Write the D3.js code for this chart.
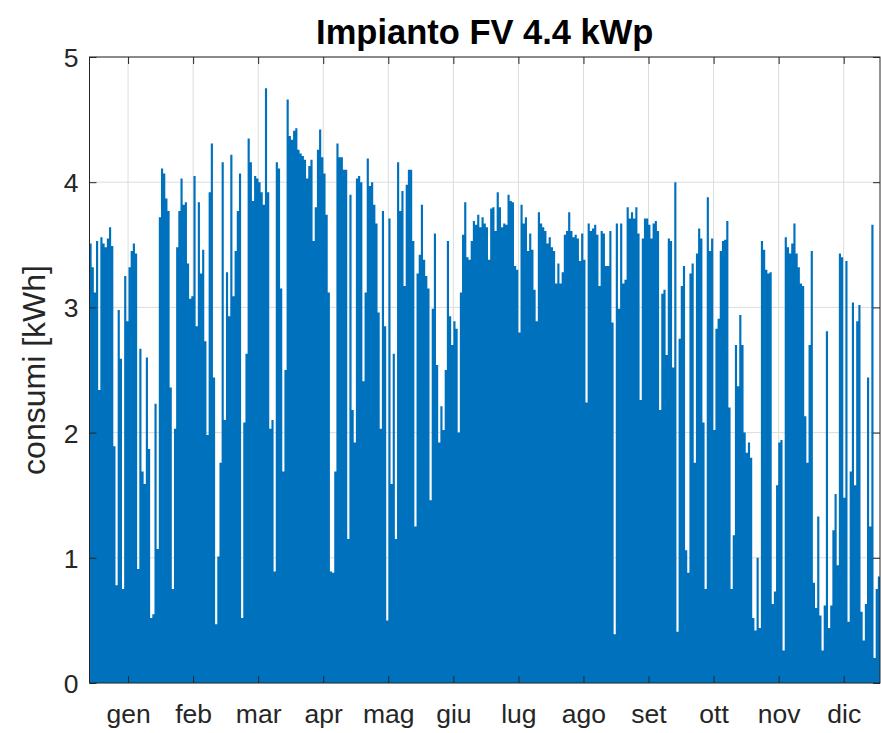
<!DOCTYPE html>
<html><head><meta charset="utf-8">
<script src="https://cdn.jsdelivr.net/npm/d3@7"></script>
<style>body{margin:0;background:#fff}svg{display:block}</style>
</head><body><svg id="c" width="881" height="733"></svg>
<script>
// Daily peak production (kWh)
const peakDays001to124 = [3.51,3.32,3.12,3.53,2.34,3.56,3.51,3.48,3.55,3.64,
3.49,1.89,0.78,2.98,2.59,0.75,3.25,2.89,3.32,3.45,
3.51,3.43,0.91,2.67,1.69,1.59,2.60,1.87,0.52,0.55,
2.23,1.07,3.72,4.11,4.07,3.87,3.77,2.36,0.75,2.03,
3.48,3.77,4.03,3.82,3.84,3.35,3.07,3.09,4.05,2.85,
3.84,3.27,3.46,2.73,1.98,3.92,4.31,2.44,0.47,1.01,
1.76,4.16,2.10,3.28,2.93,4.22,3.09,3.45,3.77,4.07,
0.52,2.08,2.63,4.35,4.16,3.85,4.05,4.03,4.00,3.92,
3.82,4.75,3.92,2.03,2.10,0.89,4.16,4.11,3.15,1.69,
2.50,4.66,4.37,4.34,4.41,4.43,4.26,4.23,4.21,4.18,
4.03,4.13,4.18,3.53,3.80,4.26,4.42,4.20,4.07,3.74,
3.12,0.89,0.88,1.69,4.31,4.20,4.20,4.10,4.10,1.15,
3.90,2.18,1.92,4.03];
const peakDays125to245 = [4.05,4.00,2.41,3.12,4.19,3.97,4.00,3.82,3.67,2.96,
2.03,3.77,2.85,0.50,3.71,1.59,2.63,1.15,4.16,3.77,
3.93,3.17,3.98,4.10,4.10,3.53,1.25,3.27,3.42,3.82,
3.38,3.25,3.15,1.46,2.99,3.59,2.54,1.92,2.21,2.02,
2.50,3.53,2.93,2.70,2.89,2.83,2.00,3.12,3.58,3.84,
3.40,3.38,3.53,3.69,3.66,3.74,3.64,3.72,
3.67,3.64,3.38,3.79,3.80,3.61,3.92,3.80,
3.64,3.67,3.66,3.90,3.85,3.84,3.33,3.30,2.80,
3.82,3.67,3.72,3.45,3.59,3.46,3.14,2.89,3.76,3.67,
3.64,3.61,3.51,3.56,3.48,3.45,3.19,3.35,3.19,
3.28,3.58,3.61,3.76,3.61,3.56,3.58,3.55,
3.37,3.59,3.38,2.24,3.67,3.61,3.63,3.66,3.58,
3.17,3.61,3.59,3.33,3.33,3.61,2.88,0.39,3.67,2.99];
const peakDays246to365 = [3.67,3.19,3.22,3.80,3.71,3.76,3.71,3.80,3.59,2.26,
3.55,3.71,3.71,3.66,3.55,3.67,3.69,3.61,2.18,3.11,
3.14,2.62,3.55,3.53,2.52,4.00,0.41,2.75,3.17,3.33,
1.06,0.88,3.27,3.35,1.76,3.43,3.63,3.55,2.08,0.75,
3.88,3.45,3.55,2.02,2.83,2.91,3.45,3.53,3.54,3.69,
2.20,0.75,1.18,2.70,2.37,2.94,2.70,2.00,1.84,1.92,
1.80,0.52,0.42,1.00,0.44,3.53,3.46,3.30,3.27,3.28,
0.63,0.73,1.58,1.92,1.94,0.26,3.56,3.48,3.43,3.51,
3.67,3.43,3.32,3.19,3.17,2.13,1.76,2.70,3.45,0.80,
0.60,1.33,0.54,0.26,0.62,2.81,0.44,0.62,1.22,1.51,
0.94,3.43,3.40,1.48,3.37,0.49,1.69,3.04,1.58,2.89,
3.02,0.57,0.34,0.63,2.44,1.25,3.66,0.20,0.75,0.85];
const monthLabels = ["gen","feb","mar","apr","mag","giu","lug","ago","set","ott","nov","dic"];
const yTickValues = [0,1,2,3,4,5];
const titleText = "Impianto FV 4.4 kWp";
const yLabelText = "consumi [kWh]";

const peaks = [...peakDays001to124, ...peakDays125to245, ...peakDays246to365];
const data = peaks.map((v,i)=>({day:i, v}));
const nDays = peaks.length;

const M = {left:89.5, right:880, top:57, bottom:683};
const FONT = "'Liberation Sans', Arial, Helvetica, sans-serif";
const svg = d3.select("#c");
const x = d3.scaleLinear().domain([0, nDays]).range([M.left, M.right]);
const y = d3.scaleLinear().domain([0, 5]).range([M.bottom, M.top]);
const tickDays = monthLabels.map((_,i)=> 17.8 + i*30.04);

// grid
const grid = svg.append("g").attr("stroke","#dcdcdc").attr("stroke-width",1);
grid.selectAll("line.v").data(tickDays).join("line").attr("class","v")
  .attr("x1",d=>x(d)).attr("x2",d=>x(d)).attr("y1",M.top).attr("y2",M.bottom);
grid.selectAll("line.h").data(yTickValues).join("line").attr("class","h")
  .attr("x1",M.left).attr("x2",M.right).attr("y1",d=>y(d)).attr("y2",d=>y(d));

// data
const area = d3.area().x(d=>x(d.day)).y0(y(0)).y1(d=>y(d.v)).curve(d3.curveStepAfter);
svg.append("path").datum([...data, {day:nDays, v:peaks[nDays-1]}])
  .attr("d", area).attr("fill","#0072BD").attr("stroke","none");

// axes (MATLAB style: inward ticks, box)
const axCol = "#262626";
const bottomAxis = d3.axisBottom(x).tickValues(tickDays).tickFormat((d,i)=>monthLabels[i]).tickSizeInner(-7).tickSizeOuter(0).tickPadding(37);
const gx = svg.append("g").attr("transform",`translate(0,${M.bottom})`).call(bottomAxis);
const topAxis = d3.axisTop(x).tickValues(tickDays).tickFormat("").tickSizeInner(-7).tickSizeOuter(0);
const gxt = svg.append("g").attr("transform",`translate(0,${M.top})`).call(topAxis);
const leftAxis = d3.axisLeft(y).tickValues(yTickValues).tickFormat(d3.format("d")).tickSizeInner(-7).tickSizeOuter(0).tickPadding(11);
const gy = svg.append("g").attr("transform",`translate(${M.left},0)`).call(leftAxis);
const rightAxis = d3.axisRight(y).tickValues(yTickValues).tickFormat("").tickSizeInner(-7).tickSizeOuter(0);
const gyr = svg.append("g").attr("transform",`translate(${M.right},0)`).call(rightAxis);
[gx,gxt,gy,gyr].forEach(g=>{
  g.select(".domain").remove();
  g.selectAll(".tick line").attr("stroke",axCol).attr("stroke-width",1);
  g.selectAll("text").attr("fill",axCol).style("font-family",FONT).style("font-size","26.5px");
});
gx.selectAll("text").attr("dy","0.1em");
gy.selectAll("text").attr("dy","0.36em");
svg.append("rect").attr("x",M.left).attr("y",M.top).attr("width",M.right-M.left).attr("height",M.bottom-M.top)
  .attr("fill","none").attr("stroke",axCol).attr("stroke-width",1);

// title & label
svg.append("text").attr("x",(M.left+M.right)/2).attr("y",44).attr("text-anchor","middle")
  .style("font-family",FONT).style("font-weight","bold").style("font-size","34.5px").attr("fill","#000").text(titleText);
svg.append("text").attr("transform",`translate(45,${(M.top+M.bottom)/2}) rotate(-90)`).attr("text-anchor","middle")
  .style("font-family",FONT).style("font-size","32px").attr("fill",axCol).text(yLabelText);
</script></body></html>
